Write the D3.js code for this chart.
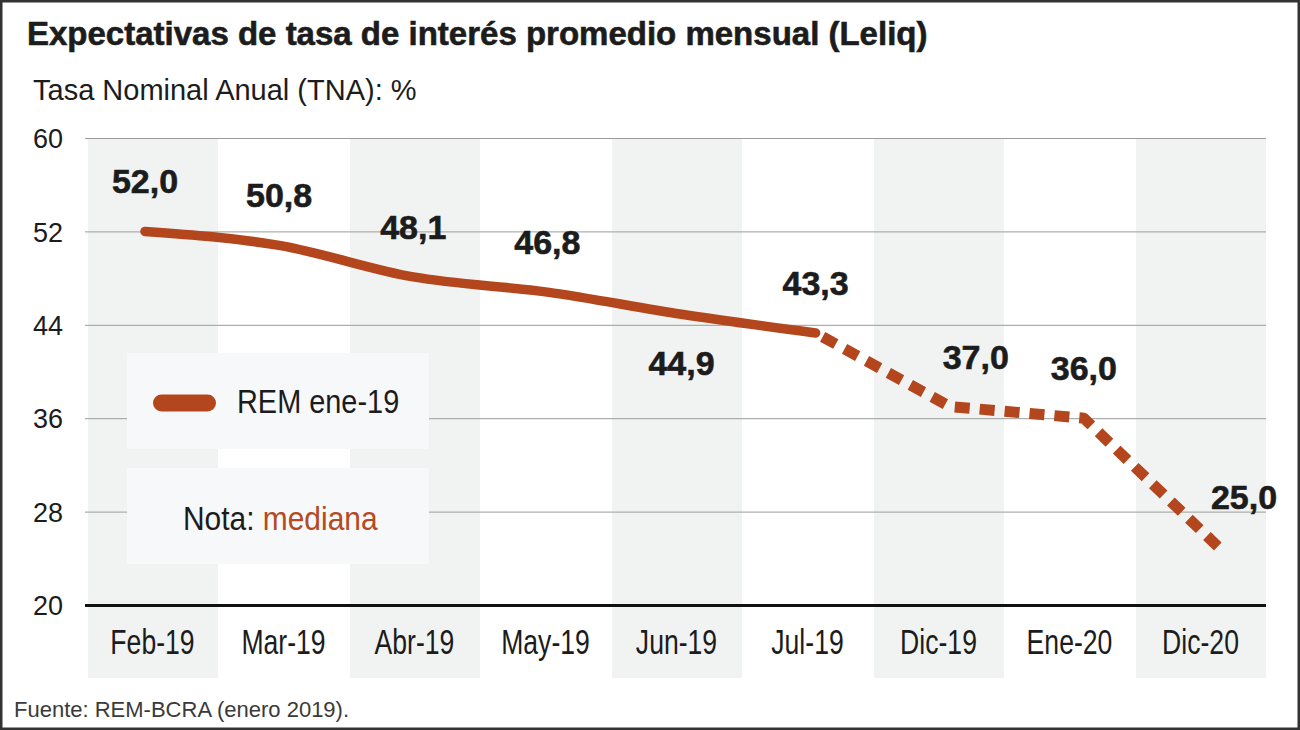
<!DOCTYPE html>
<html>
<head>
<meta charset="utf-8">
<script src="https://cdn.jsdelivr.net/npm/d3@7"></script>
<style>
  html, body { margin: 0; padding: 0; background: #fff; }
  svg { display: block; }
</style>
</head>
<body>
<svg id="chart" width="1300" height="730"></svg>
<script>
// ---- data ----
const categories = ["Feb-19", "Mar-19", "Abr-19", "May-19", "Jun-19", "Jul-19", "Dic-19", "Ene-20", "Dic-20"];
const values = [52.0, 50.8, 48.1, 46.8, 44.9, 43.3, 37.0, 36.0, 25.0];
const yTicks = [20, 28, 36, 44, 52, 60];
const lastObserved = "Jul-19"; // solid up to here, dashed afterwards
const labelPlacement = ["above", "above", "above", "above", "below", "above", "aboveRight", "above", "aboveRight"];
const seriesName = "REM ene-19";

// ---- styling ----
const RUST = "#b3461c";
const INK = "#1c1c1c";
const SANS = "'Liberation Sans', Arial, sans-serif";

const svg = d3.select("#chart");
const W = 1300, H = 730;
const pL = 85, pR = 1266, pT = 138, pB = 605;

// frame
svg.append("rect").attr("x", 1.25).attr("y", 1.25).attr("width", W - 2.5).attr("height", H - 2.5)
  .attr("fill", "#fff").attr("stroke", "#333").attr("stroke-width", 2.5);

// scales
const xBand = d3.scaleBand().domain(categories).range([87, pR]).paddingInner(0);
const xPt = d3.scalePoint().domain(categories).range([145, 1218]);
const y = d3.scaleLinear().domain([20, 60]).range([pB, pT]);

// alternating column bands
svg.append("g").selectAll("rect")
  .data(categories.filter((d, i) => i % 2 === 0))
  .join("rect")
  .attr("x", d => xBand(d) + 1)
  .attr("y", pT)
  .attr("width", xBand.bandwidth() - 1)
  .attr("height", 678 - pT)
  .attr("fill", "#f1f3f2");

// y axis with gridlines
const yAxis = svg.append("g").attr("transform", `translate(${pL},0)`)
  .call(d3.axisLeft(y).tickValues(yTicks).tickSize(-(pR - pL)).tickPadding(22).tickFormat(d3.format("d")));
yAxis.select(".domain").remove();
yAxis.selectAll(".tick line")
  .attr("stroke", d => d === 20 ? "#111" : "#9c9c9c")
  .attr("stroke-width", d => d === 20 ? 2.8 : 1);
yAxis.selectAll(".tick text")
  .attr("font-family", SANS).attr("font-size", 27).attr("fill", INK).attr("dy", "0.36em");

// x axis labels
const xAxis = svg.append("g").attr("transform", `translate(0,${pB})`)
  .call(d3.axisBottom(xBand).tickSize(0));
xAxis.select(".domain").remove();
xAxis.selectAll(".tick text")
  .attr("font-family", SANS).attr("font-size", 35).attr("fill", INK)
  .attr("y", null).attr("dy", null)
  .attr("transform", `translate(0,49) scale(0.76,1)`);

// legend boxes
const legend = svg.append("g");
legend.append("rect").attr("x", 127).attr("y", 353).attr("width", 302).attr("height", 96).attr("fill", "#f7f8fa");
legend.append("rect").attr("x", 127).attr("y", 468).attr("width", 302).attr("height", 96).attr("fill", "#f7f8fa");
legend.append("line").attr("x1", 161.5).attr("x2", 207.5).attr("y1", 403).attr("y2", 403)
  .attr("stroke", RUST).attr("stroke-width", 17).attr("stroke-linecap", "round");
legend.append("text").attr("transform", "translate(237,413) scale(0.85,1)").text(seriesName)
  .attr("font-family", SANS).attr("font-size", 34).attr("fill", INK);
const nota = legend.append("text").attr("transform", "translate(183,530) scale(0.88,1)")
  .attr("font-family", SANS).attr("font-size", 34).attr("fill", INK);
nota.append("tspan").text("Nota: ");
nota.append("tspan").attr("fill", "#b34a22").text("mediana");

// line
const pts = categories.map((c, i) => ({ c, v: values[i], i }));
const cut = categories.indexOf(lastObserved);
const solidLine = d3.line().x(d => xPt(d.c)).y(d => y(d.v)).curve(d3.curveMonotoneX);
const dashLine = d3.line().x(d => xPt(d.c)).y(d => y(d.v)).curve(d3.curveLinear);

svg.append("path").datum(pts.slice(0, cut + 1))
  .attr("d", solidLine).attr("fill", "none").attr("stroke", RUST)
  .attr("stroke-width", 9.5).attr("stroke-linecap", "round").attr("stroke-linejoin", "round");
svg.append("path").datum(pts.slice(cut))
  .attr("d", dashLine).attr("fill", "none").attr("stroke", RUST)
  .attr("stroke-width", 11).attr("stroke-linejoin", "round")
  .attr("stroke-dasharray", "15 10").attr("stroke-dashoffset", 17);

// value labels
const fmt = v => d3.format(".1f")(v).replace(".", ",");
svg.append("g").selectAll("text")
  .data(pts)
  .join("text")
  .attr("x", d => xPt(d.c) + (labelPlacement[d.i] === "aboveRight" ? 26 : 0))
  .attr("y", d => y(d.v) + (labelPlacement[d.i] === "below" ? 61 : -38))
  .attr("text-anchor", "middle")
  .attr("font-family", SANS).attr("font-weight", "bold").attr("font-size", 34)
  .attr("fill", INK).attr("stroke", INK).attr("stroke-width", 0.6)
  .text(d => fmt(d.v));

// title, axis title, source
svg.append("text").attr("x", 27).attr("y", 45)
  .attr("font-family", SANS).attr("font-weight", "bold").attr("font-size", 33)
  .attr("fill", INK).attr("stroke", INK).attr("stroke-width", 0.6)
  .text("Expectativas de tasa de interés promedio mensual (Leliq)");
svg.append("text").attr("x", 33).attr("y", 100)
  .attr("font-family", SANS).attr("font-size", 29).attr("fill", INK)
  .text("Tasa Nominal Anual (TNA): %");
svg.append("text").attr("x", 14).attr("y", 717)
  .attr("font-family", SANS).attr("font-size", 22).attr("fill", "#3a3a3a")
  .text("Fuente: REM-BCRA (enero 2019).");
</script>
</body>
</html>
